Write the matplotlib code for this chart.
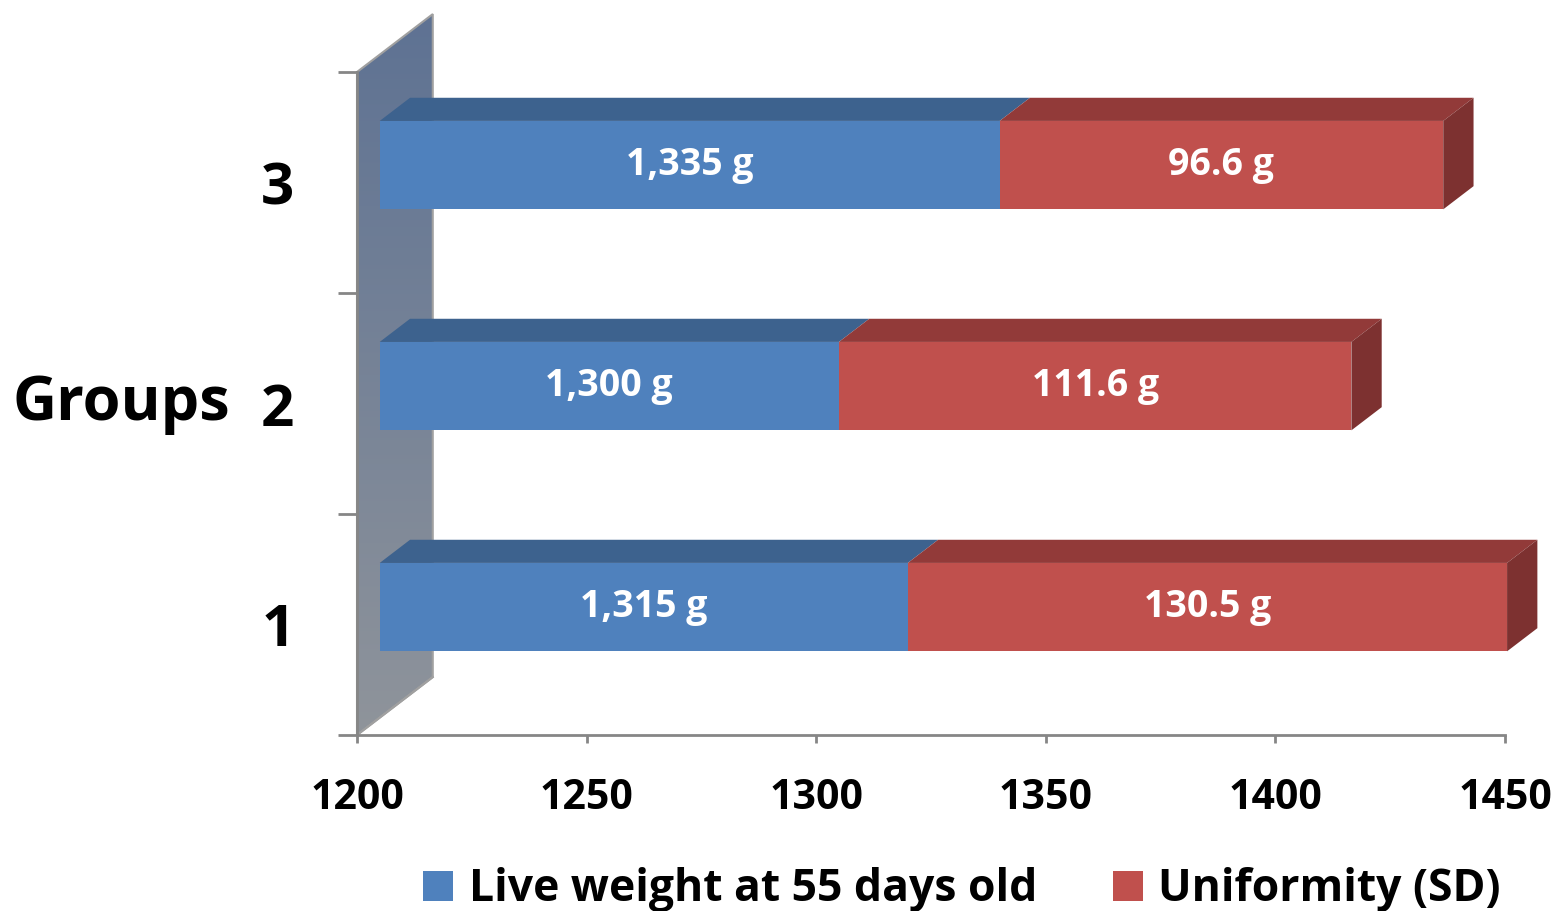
import numpy as np
import matplotlib
matplotlib.use('Agg')
import matplotlib.pyplot as plt
from matplotlib.patches import Polygon, Rectangle, Patch

# data
groups = [1, 2, 3]
live_weight = [1315, 1300, 1335]      # g, live weight at 55 days old
uniformity = [130.5, 111.6, 96.6]     # g, SD
weight_labels = ['1,315 g', '1,300 g', '1,335 g']
sd_labels = ['130.5 g', '111.6 g', '96.6 g']
xticks = [1200, 1250, 1300, 1350, 1400, 1450]
series_names = ['Live weight at 55 days old', 'Uniformity (SD)']

# basic plot settings
plt.rcParams['font.family'] = 'Open Sans'
plt.rcParams['font.weight'] = 'bold'

BLUE, BLUE_TOP = '#4f81bd', '#3d628e'
RED, RED_TOP, RED_SIDE = '#c0504d', '#923a39', '#7d3130'
AXIS_GREY = '#868686'

XMIN, XMAX = 1200, 1450
DX, DY = 16.5, 0.262          # depth of the 3d box in data units
F0, FT = 0.3, 0.4             # bar front position and thickness (depth fraction)
BH = 0.4                      # bar height

fig = plt.figure(figsize=(15.56, 9.11), dpi=100)
ax = fig.add_axes([357 / 1556, 176 / 911, 1148 / 1556, 663 / 911])

# back wall with gradient
wall = Polygon([(XMIN, 0.5), (XMIN + DX, 0.5 + DY), (XMIN + DX, 3.5 + DY), (XMIN, 3.5)],
               closed=True, fc='none', ec='#a0a0a0', lw=1.5, zorder=1,
               transform=ax.transData, clip_on=False)
grad = np.linspace(0, 1, 256).reshape(-1, 1)
cmap = matplotlib.colors.LinearSegmentedColormap.from_list('wall', ['#8f949b', '#5e7293'])
im = ax.imshow(grad, cmap=cmap, origin='lower', aspect='auto',
               extent=[XMIN, XMIN + DX, 0.5, 3.5 + DY], zorder=0.5)
im.set_clip_path(wall)
im.set_clip_box(fig.bbox)
ax.add_patch(wall)

# stacked 3d bars
for g, lw_, sd, wl, sl in zip(groups, live_weight, uniformity, weight_labels, sd_labels):
    x0 = XMIN + F0 * DX
    y0 = g - BH / 2 + F0 * DY
    xb = x0 + (lw_ - XMIN)
    xe = xb + sd
    ty = y0 + BH
    ox, oy = FT * DX, FT * DY
    for xa, xz, col in [(x0, xb, BLUE_TOP), (xb, xe, RED_TOP)]:
        ax.add_patch(Polygon([(xa, ty), (xz, ty), (xz + ox, ty + oy), (xa + ox, ty + oy)],
                             closed=True, fc=col, ec='none', zorder=3, clip_on=False))
    ax.add_patch(Polygon([(xe, y0), (xe, ty), (xe + ox, ty + oy), (xe + ox, y0 + oy)],
                         closed=True, fc=RED_SIDE, ec='none', zorder=3, clip_on=False))
    ax.add_patch(Rectangle((x0, y0), lw_ - XMIN, BH, fc=BLUE, ec='none', zorder=4, clip_on=False))
    ax.add_patch(Rectangle((xb, y0), sd, BH, fc=RED, ec='none', zorder=4, clip_on=False))
    ax.text((x0 + xb) / 2, y0 + BH / 2, wl, color='white', fontsize=27,
            fontweight='bold', ha='center', va='center', zorder=5)
    ax.text((xb + xe) / 2, y0 + BH / 2, sl, color='white', fontsize=27,
            fontweight='bold', ha='center', va='center', zorder=5)

# floor edge of the wall
ax.plot([XMIN, XMIN + DX], [0.5, 0.5 + DY], color='#a0a0a0', lw=1.5, zorder=1, clip_on=False)

ax.set_xlim(XMIN, XMAX)
ax.set_ylim(0.5, 3.5)
ax.set_facecolor('none')

for side in ['top', 'right']:
    ax.spines[side].set_visible(False)
for side in ['left', 'bottom']:
    ax.spines[side].set_color(AXIS_GREY)
    ax.spines[side].set_linewidth(2)
    ax.spines[side].set_zorder(2)

ax.set_xticks(xticks)
ax.set_xticklabels([str(t) for t in xticks], fontsize=29.5, fontweight='bold')
ax.tick_params(axis='x', direction='out', length=6, width=2, color=AXIS_GREY, pad=25)

ax.set_yticks([0.5, 1.5, 2.5, 3.5])
ax.set_yticklabels([])
ax.tick_params(axis='y', which='major', direction='out', length=14, width=2, color=AXIS_GREY)
ax.set_yticks(groups, minor=True)
ax.set_yticklabels([str(g) for g in groups], minor=True, fontsize=42, fontweight='bold')
ax.tick_params(axis='y', which='minor', length=0, pad=45)

fig.text(12 / 1556, 1 - 404 / 911, 'Groups', fontsize=44, fontweight='bold',
         ha='left', va='center')

handles = [Patch(fc=BLUE, ec='none'), Patch(fc=RED, ec='none')]
fig.legend(handles, series_names, loc='center', bbox_to_anchor=(962 / 1556, 1 - 890 / 911),
           ncol=2, frameon=False, prop={'size': 32, 'weight': 'bold'},
           handlelength=0.68, handleheight=0.68, handletextpad=0.35,
           columnspacing=1.7, borderpad=0, borderaxespad=0)

fig.savefig('out.png', dpi=100)
